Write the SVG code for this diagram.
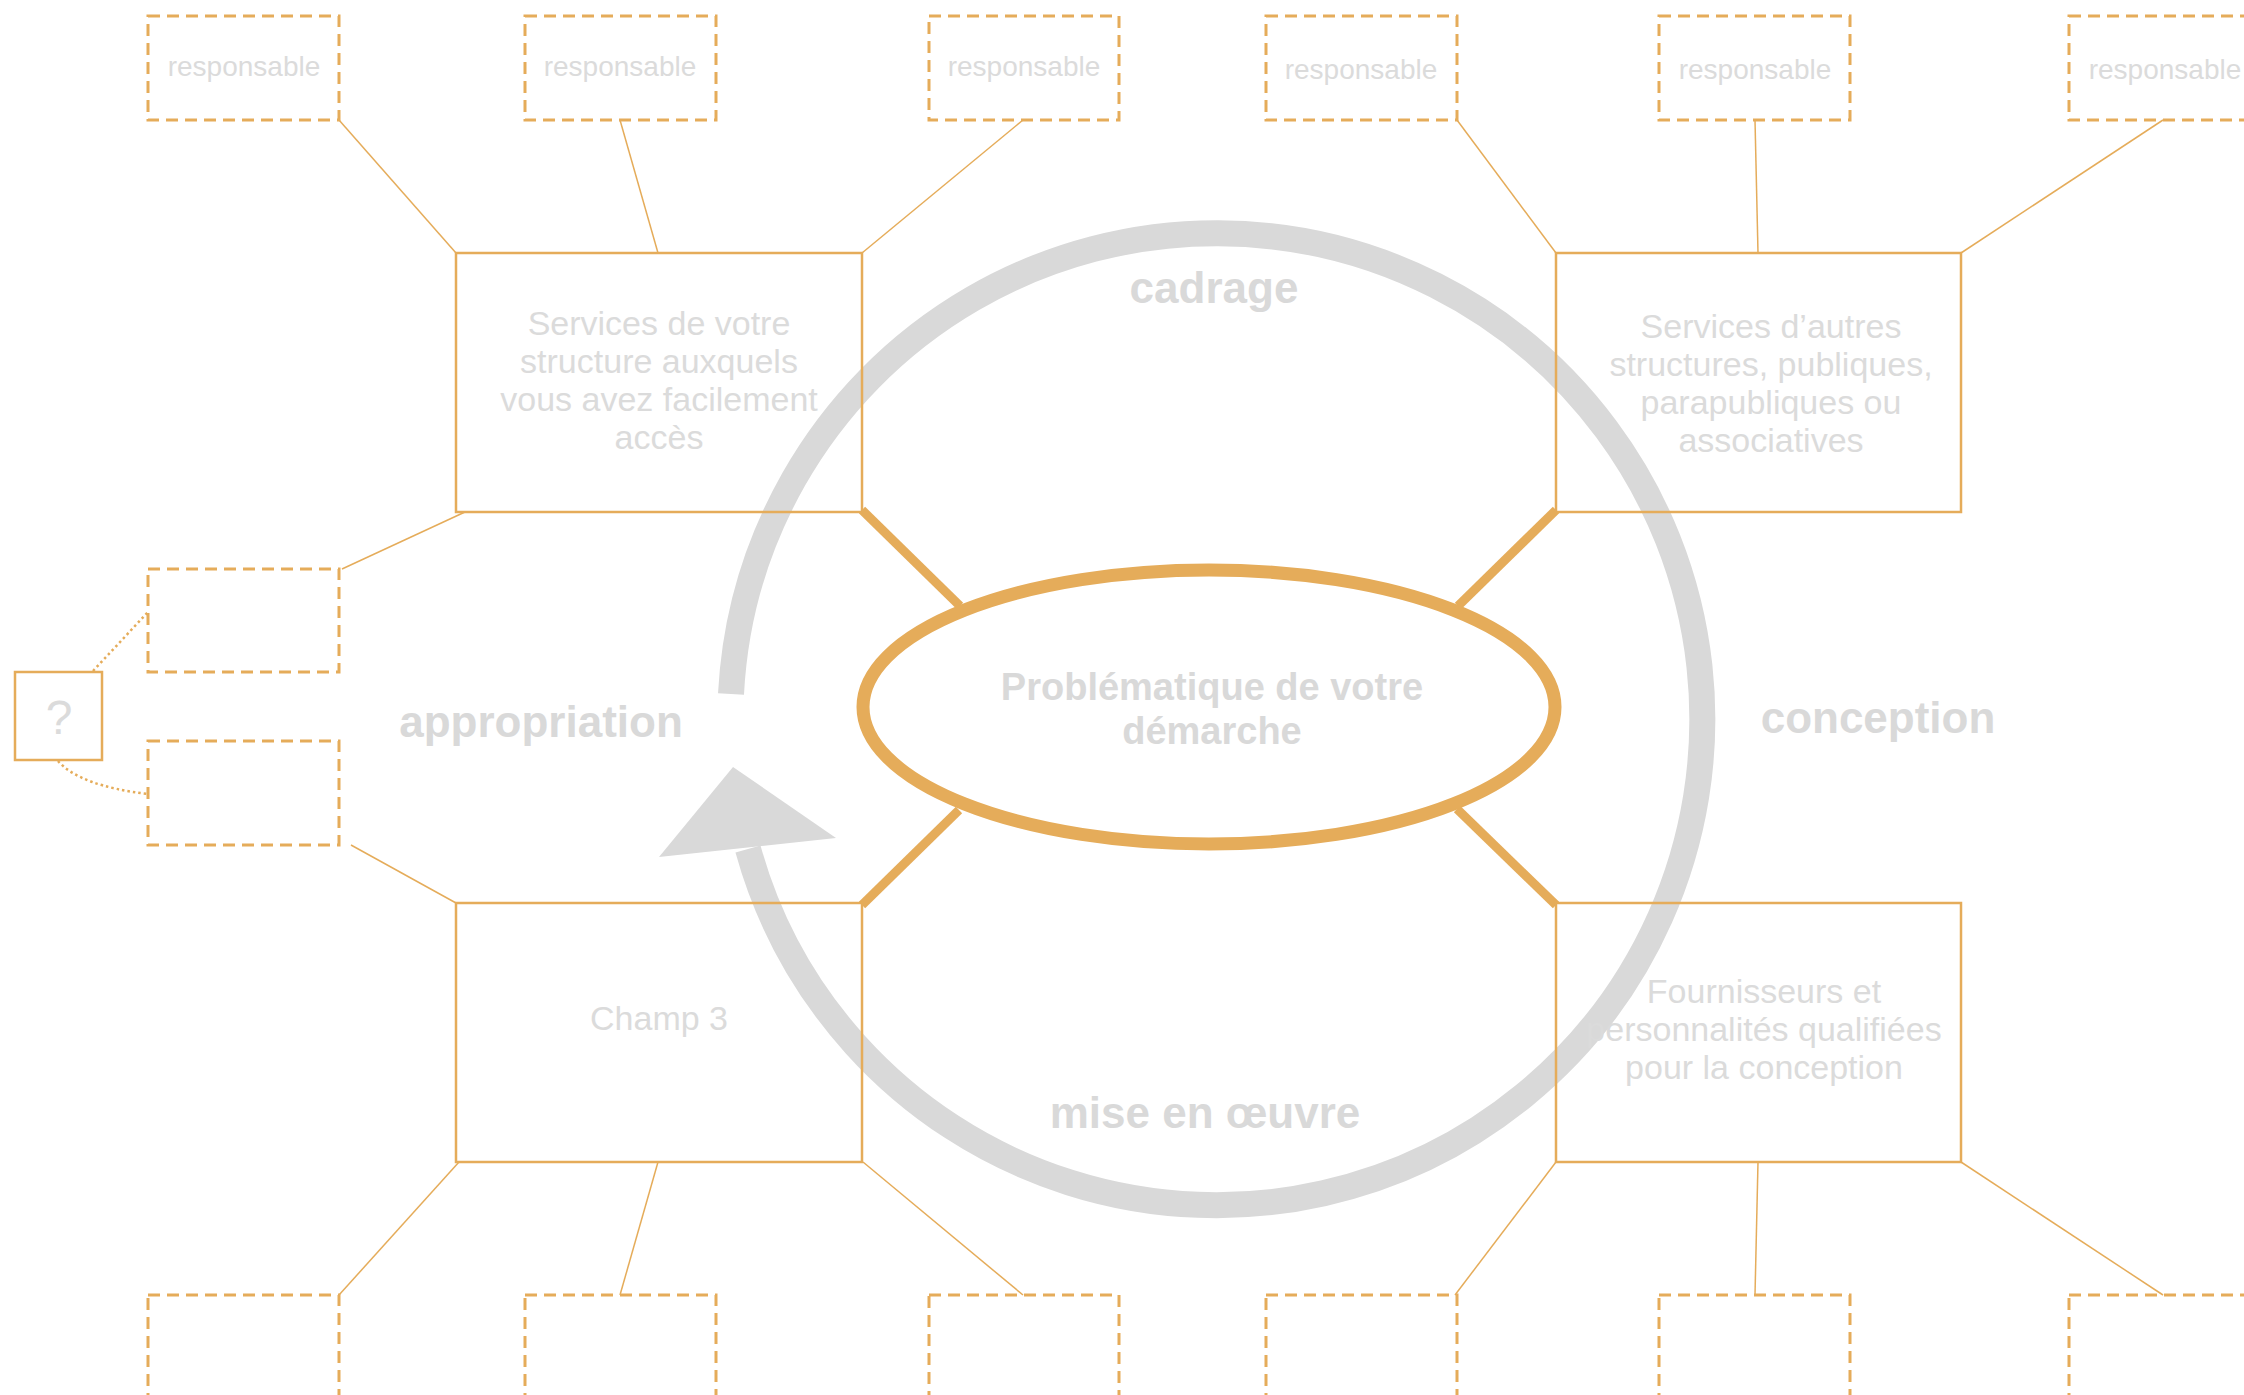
<svg xmlns="http://www.w3.org/2000/svg" width="2244" height="1395" viewBox="0 0 2244 1395">
<style>
.dash{fill:none;stroke:#E5AC5A;stroke-width:3;stroke-dasharray:12 7}
.box{fill:none;stroke:#E5AC5A;stroke-width:2.5}
.thin{stroke:#E5AC5A;stroke-width:1.5;fill:none}
.thick{stroke:#E5AC5A;stroke-width:9;fill:none}
.dot{stroke:#E5AC5A;stroke-width:2.5;fill:none;stroke-dasharray:2.5 3}
.lt{font-family:"Liberation Sans",Arial,sans-serif;fill:#DBDBDB;text-anchor:middle}
.bd{font-family:"Liberation Sans",Arial,sans-serif;font-weight:bold;fill:#D9D9D9;text-anchor:middle}
</style>
<rect width="2244" height="1395" fill="#FFFFFF"/>
<g id="cycle">
<path d="M 731 694 A 486 486 0 1 1 748 849" fill="none" stroke="#D9D9D9" stroke-width="26"/>
<polygon points="733,767 659,857 836,838" fill="#D9D9D9"/>
</g>
<g id="connectors">
<line class="thin" x1="339" y1="120" x2="456" y2="253"/>
<line class="thin" x1="620" y1="120" x2="658" y2="253"/>
<line class="thin" x1="1023" y1="120" x2="862" y2="253"/>
<line class="thin" x1="342" y1="569" x2="465" y2="512"/>
<line class="thin" x1="1457" y1="120" x2="1556" y2="253"/>
<line class="thin" x1="1755" y1="120" x2="1758" y2="253"/>
<line class="thin" x1="2163" y1="120" x2="1961" y2="253"/>
<line class="thin" x1="351" y1="845" x2="456" y2="903"/>
<line class="thin" x1="459" y1="1162" x2="339" y2="1295"/>
<line class="thin" x1="658" y1="1162" x2="620" y2="1295"/>
<line class="thin" x1="863" y1="1162" x2="1023" y2="1295"/>
<line class="thin" x1="1556" y1="1162" x2="1455" y2="1295"/>
<line class="thin" x1="1758" y1="1162" x2="1755" y2="1295"/>
<line class="thin" x1="1961" y1="1162" x2="2163" y2="1295"/>
<line class="thick" x1="862" y1="510" x2="960" y2="606"/>
<line class="thick" x1="1556" y1="510" x2="1458" y2="606"/>
<line class="thick" x1="862" y1="905" x2="959" y2="810"/>
<line class="thick" x1="1556" y1="905" x2="1457" y2="809"/>
<path class="dot" d="M 93 671 L 148 612"/>
<path class="dot" d="M 58 761 Q 80 786 148 794"/>
</g>
<g id="center">
<ellipse cx="1209" cy="707" rx="346" ry="137" fill="none" stroke="#E5AC5A" stroke-width="13"/>
<text class="bd" font-size="38" x="1212" y="700">Problématique de votre</text>
<text class="bd" font-size="38" x="1212" y="744">démarche</text>
</g>
<g id="labels">
<text class="bd" font-size="44" x="1214" y="303">cadrage</text>
<text class="bd" font-size="44" x="541" y="737">appropriation</text>
<text class="bd" font-size="44" x="1878" y="733">conception</text>
<text class="bd" font-size="44" x="1205" y="1128">mise en œuvre</text>
</g>
<g id="box1">
<rect class="box" x="456" y="253" width="406" height="259"/>
<text class="lt" font-size="34" x="659" y="335">Services de votre</text>
<text class="lt" font-size="34" x="659" y="373">structure auxquels</text>
<text class="lt" font-size="34" x="659" y="411">vous avez facilement</text>
<text class="lt" font-size="34" x="659" y="449">accès</text>
</g>
<g id="box2">
<rect class="box" x="1556" y="253" width="405" height="259"/>
<text class="lt" font-size="34" x="1771" y="338">Services d’autres</text>
<text class="lt" font-size="34" x="1771" y="376">structures, publiques,</text>
<text class="lt" font-size="34" x="1771" y="414">parapubliques ou</text>
<text class="lt" font-size="34" x="1771" y="452">associatives</text>
</g>
<g id="box3">
<rect class="box" x="456" y="903" width="406" height="259"/>
<text class="lt" font-size="34" x="659" y="1030">Champ 3</text>
</g>
<g id="box4">
<rect class="box" x="1556" y="903" width="405" height="259"/>
<text class="lt" font-size="34" x="1764" y="1003">Fournisseurs et</text>
<text class="lt" font-size="34" x="1764" y="1041">personnalités qualifiées</text>
<text class="lt" font-size="34" x="1764" y="1079">pour la conception</text>
</g>
<g id="resp-top-1"><rect class="dash" x="148" y="16" width="191" height="104"/><text class="lt" font-size="28" x="244" y="76">responsable</text></g>
<g id="resp-top-2"><rect class="dash" x="525" y="16" width="191" height="104"/><text class="lt" font-size="28" x="620" y="76">responsable</text></g>
<g id="resp-top-3"><rect class="dash" x="929" y="16" width="190" height="104"/><text class="lt" font-size="28" x="1024" y="76">responsable</text></g>
<g id="resp-top-4"><rect class="dash" x="1266" y="16" width="191" height="104"/><text class="lt" font-size="28" x="1361" y="79">responsable</text></g>
<g id="resp-top-5"><rect class="dash" x="1659" y="16" width="191" height="104"/><text class="lt" font-size="28" x="1755" y="79">responsable</text></g>
<g id="resp-top-6"><rect class="dash" x="2069" y="16" width="191" height="104"/><text class="lt" font-size="28" x="2165" y="79">responsable</text></g>
<g id="side-1"><rect class="dash" x="148" y="569" width="191" height="103"/></g>
<g id="side-2"><rect class="dash" x="148" y="741" width="191" height="104"/></g>
<g id="question"><rect class="box" x="15" y="672" width="87" height="88"/><text class="lt" font-size="48" x="59" y="734">?</text></g>
<g id="bottom-1"><rect class="dash" x="148" y="1295" width="191" height="130"/></g>
<g id="bottom-2"><rect class="dash" x="525" y="1295" width="191" height="130"/></g>
<g id="bottom-3"><rect class="dash" x="929" y="1295" width="190" height="130"/></g>
<g id="bottom-4"><rect class="dash" x="1266" y="1295" width="191" height="130"/></g>
<g id="bottom-5"><rect class="dash" x="1659" y="1295" width="191" height="130"/></g>
<g id="bottom-6"><rect class="dash" x="2069" y="1295" width="191" height="130"/></g>
</svg>
